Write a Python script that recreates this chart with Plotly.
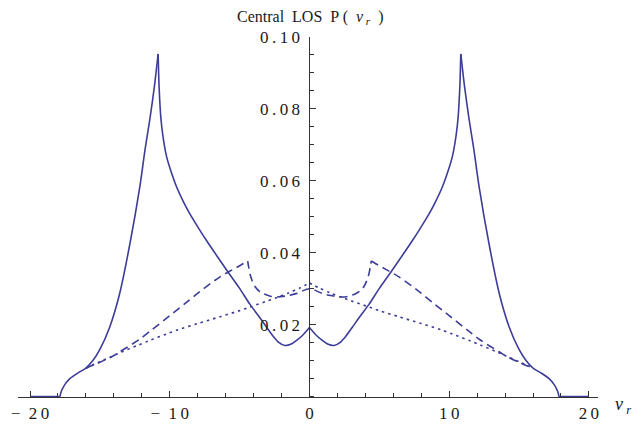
import plotly.graph_objects as go

# ---------------- data ----------------
solid_v = [-20, -17.85, -17.8, -17.7, -17.5, -17.15, -16.56, -16.0, -15.5, -15.0,
           -14.3, -13.6, -12.85, -12.14, -11.76, -11.42, -11.1, -10.83, -10.76, -10.64,
           -10.5, -10.23, -9.9, -9.5, -9.0, -8.56, -7.85, -7.37, -6.41, -5.93, -5.0,
           -4.27, -3.6, -3.07, -2.6, -2.2, -1.76, -1.3, -0.92, -0.45, 0,
           0.45, 0.92, 1.3, 1.76, 2.2, 2.6, 3.07, 3.6, 4.27,
           5.0, 5.93, 6.41, 7.37, 7.85, 8.56, 9.0, 9.5, 9.9, 10.23, 10.5, 10.64,
           10.76, 10.83, 11.1, 11.42, 11.76, 12.14, 12.85, 13.6, 14.3, 15.0,
           15.5, 16.0, 16.56, 17.15, 17.5, 17.7, 17.8, 17.85, 20]
solid_p = [0, 0, 0.0010, 0.0020, 0.0034, 0.0050, 0.0066, 0.0079, 0.0100, 0.0131,
           0.0193, 0.0284, 0.0425, 0.0584, 0.0689, 0.0772, 0.0862, 0.0953, 0.0860, 0.0777,
           0.0728, 0.0668, 0.0625, 0.0582, 0.0540, 0.0508, 0.0463, 0.0434, 0.0379, 0.0352, 0.0301,
           0.0257, 0.0222, 0.0193, 0.0168, 0.0151, 0.0142, 0.0146, 0.0156, 0.0172, 0.0192,
           0.0172, 0.0156, 0.0146, 0.0142, 0.0151, 0.0168, 0.0193, 0.0222, 0.0257,
           0.0301, 0.0352, 0.0379, 0.0434, 0.0463, 0.0508, 0.0540, 0.0582, 0.0625, 0.0668, 0.0728, 0.0777,
           0.0860, 0.0953, 0.0862, 0.0772, 0.0689, 0.0584, 0.0425, 0.0284, 0.0193, 0.0131,
           0.0100, 0.0079, 0.0066, 0.0050, 0.0034, 0.0020, 0.0010, 0, 0]

dashed_v = [-16.0, -15.3, -14.0, -13.6, -12.2, -11.4, -10.0, -8.8, -7.85, -6.4,
            -5.5, -4.9, -4.42, -4.36, -4.25, -4.1, -3.9, -3.6, -3.3, -2.8,
            -2.3, -1.5, -0.9, 0,
            0.9, 1.5, 2.3, 2.8, 3.3, 3.6, 3.9, 4.1, 4.25, 4.36,
            4.42, 4.9, 5.5, 6.4, 7.85, 8.8, 10.0, 11.4, 12.2, 13.6,
            14.0, 15.3, 16.0]
dashed_p = [0.0079, 0.0090, 0.0114, 0.0124, 0.0158, 0.0182, 0.0225, 0.0262, 0.0292, 0.0333,
            0.0353, 0.0366, 0.0377, 0.0362, 0.0340, 0.0322, 0.0306, 0.0293, 0.0286, 0.0279,
            0.0277, 0.0281, 0.0287, 0.0300,
            0.0287, 0.0281, 0.0277, 0.0279, 0.0286, 0.0293, 0.0306, 0.0322, 0.0340, 0.0362,
            0.0377, 0.0366, 0.0353, 0.0333, 0.0292, 0.0262, 0.0225, 0.0182, 0.0158, 0.0124,
            0.0114, 0.0090, 0.0079]

dotted_v = [-16.0, -15.0, -14.0, -13.5, -12.26, -11.5, -10.23, -9.4, -8.0, -6.4,
            -5.0, -4.27, -3.0, -2.36, -1.5, -0.69, 0,
            0.69, 1.5, 2.36, 3.0, 4.27, 5.0, 6.4, 8.0, 9.4,
            10.23, 11.5, 12.26, 13.5, 14.0, 15.0, 16.0]
dotted_p = [0.0079, 0.0097, 0.0114, 0.0123, 0.0143, 0.0155, 0.0174, 0.0186, 0.0203, 0.0222,
            0.0239, 0.0249, 0.0266, 0.0275, 0.0288, 0.0302, 0.0316,
            0.0302, 0.0288, 0.0275, 0.0266, 0.0249, 0.0239, 0.0222, 0.0203, 0.0186,
            0.0174, 0.0155, 0.0143, 0.0123, 0.0114, 0.0097, 0.0079]

# cusp locations (curve is smooth between them)
solid_cusps = [-17.85, -10.83, 0, 10.83, 17.85]
dashed_cusps = [-4.42, 4.42]
dotted_cusps = [0]

x_ticks = [-20, -10, 0, 10, 20]
x_ticktext = ["\u2212 20", "\u2212 10", "0", "10", "20"]
y_ticks = [0.02, 0.04, 0.06, 0.08, 0.10]
y_ticktext = ["0.02", "0.04", "0.06", "0.08", "0.10"]

# ---------------- styling ----------------
C = "#3d3d99"
AX = "#333333"
TXT = "#1a1a1a"
FONT = "Liberation Serif"
XR = [-20.86, 20.65]
YR = [-0.0004, 0.1]
LW = 1.6


def spaced(s):
    return "\u2009".join(list(s))


def xlabel(t):
    if t.startswith("\u2212"):
        return "\u2212\u2002" + spaced(t[2:])
    return spaced(t)


def pieces(v, p, cusps):
    idx = [0] + [v.index(c) for c in cusps] + [len(v) - 1]
    out = []
    for a, b in zip(idx[:-1], idx[1:]):
        if b > a:
            out.append((v[a:b + 1], p[a:b + 1]))
    return out


fig = go.Figure()
for vv, pp in pieces(dotted_v, dotted_p, dotted_cusps):
    fig.add_trace(go.Scatter(x=vv, y=pp, mode="lines",
                             line=dict(color=C, width=LW, dash="2.5px,4px",
                                       shape="spline", smoothing=0.8),
                             hoverinfo="skip", showlegend=False))
for vv, pp in pieces(dashed_v, dashed_p, dashed_cusps):
    fig.add_trace(go.Scatter(x=vv, y=pp, mode="lines",
                             line=dict(color=C, width=LW, dash="8px,5px",
                                       shape="spline", smoothing=0.8),
                             hoverinfo="skip", showlegend=False))
for vv, pp in pieces(solid_v, solid_p, solid_cusps):
    fig.add_trace(go.Scatter(x=vv, y=pp, mode="lines",
                             line=dict(color=C, width=LW, shape="spline", smoothing=0.8),
                             hoverinfo="skip", showlegend=False))

fig.update_layout(
    width=644, height=424,
    margin=dict(l=18, r=46, t=37, b=26, autoexpand=False),
    paper_bgcolor="white", plot_bgcolor="white",
    font=dict(family=FONT, size=17, color=TXT),
    xaxis=dict(
        range=XR, showgrid=False, zeroline=False, automargin=False,
        showline=True, linecolor=AX, linewidth=1,
        ticks="inside", ticklen=6, tickwidth=1, tickcolor=AX,
        tickvals=x_ticks, ticktext=[xlabel(t) for t in x_ticktext],
        ticklabelstandoff=1,
        minor=dict(dtick=2, tick0=0, ticks="inside", ticklen=3.5, tickcolor=AX, tickwidth=1),
        anchor="free", position=(0 - YR[0]) / (YR[1] - YR[0]),
        tickfont=dict(family=FONT, size=17, color=TXT),
        fixedrange=True,
    ),
    yaxis=dict(
        range=YR, showgrid=False, zeroline=False, automargin=False,
        showline=True, linecolor=AX, linewidth=1,
        ticks="inside", ticklen=6, tickwidth=1, tickcolor=AX,
        tickvals=y_ticks, ticktext=[spaced(t) for t in y_ticktext],
        ticklabelstandoff=6,
        minor=dict(dtick=0.005, tick0=0, ticks="inside", ticklen=3.5, tickcolor=AX, tickwidth=1),
        anchor="free", position=(0 - XR[0]) / (XR[1] - XR[0]),
        tickfont=dict(family=FONT, size=17, color=TXT),
        fixedrange=True,
    ),
    annotations=[
        dict(text="Central  LOS  P (  <i>v</i><sub><i> r</i></sub>  )",
             xref="x", x=0.1, yref="paper", y=1 + 20 / 361, yanchor="middle",
             xanchor="center", showarrow=False,
             font=dict(family=FONT, size=16, color=TXT)),
        dict(text="<i>v</i><sub><i> r</i></sub>",
             xref="paper", x=1, xanchor="left", xshift=15,
             yref="y", y=0, yanchor="middle", yshift=-9,
             showarrow=False, font=dict(family=FONT, size=18, color=TXT)),
    ],
)

fig.write_html("out.html")
